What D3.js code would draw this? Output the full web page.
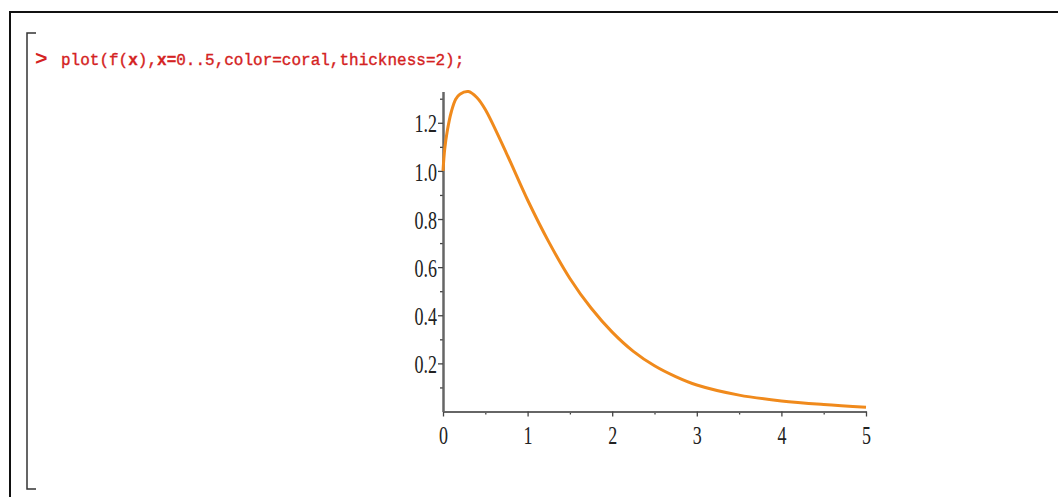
<!DOCTYPE html>
<html>
<head>
<meta charset="utf-8">
<script src="https://cdn.jsdelivr.net/npm/d3@7"></script>
<style>
  html, body { margin: 0; padding: 0; background: #fff; }
  svg { display: block; }
</style>
</head>
<body>
<svg id="chart" width="1058" height="497"></svg>
<script>
// values
var xValues = [0, 0.02, 0.05, 0.1, 0.15, 0.2, 0.3, 0.4, 0.5, 0.75, 1, 1.25, 1.5, 1.75, 2, 2.25, 2.5, 2.75, 3, 3.5, 4, 4.5, 5];
var yValues = [1.0, 1.09, 1.165, 1.248, 1.298, 1.319, 1.33, 1.305, 1.255, 1.073, 0.879, 0.705, 0.553, 0.43, 0.33, 0.25, 0.19, 0.145, 0.11, 0.068, 0.044, 0.029, 0.018];

var xMajorTicks = [0, 1, 2, 3, 4, 5];
var xMinorTicks = [0.5, 1.5, 2.5, 3.5, 4.5];
var yMajorTicks = [0.2, 0.4, 0.6, 0.8, 1.0, 1.2];
var yMinorTicks = [0.1, 0.3, 0.5, 0.7, 0.9, 1.1, 1.3];

var commandParts = [
  ['plot(f(', false],
  ['x', true],
  ('),'),
  ['x=', true],
  ['0..5,color=coral,thickness=2);', false]
];

var svg = d3.select('#chart');

// worksheet frame
svg.append('path')
  .attr('d', 'M10,1100 L10,12 L1100,12')
  .attr('fill', 'none')
  .attr('stroke', '#111')
  .attr('stroke-width', 2);

// execution group bracket
svg.append('path')
  .attr('d', 'M36,33 L27,33 L27,489 L36,489')
  .attr('fill', 'none')
  .attr('stroke', '#333')
  .attr('stroke-width', 1.5);

// prompt + input line
svg.append('text')
  .attr('x', 35)
  .attr('y', 65)
  .attr('fill', '#d42222')
  .style('font-family', '"Liberation Mono", monospace')
  .style('font-size', '21px')
  .style('font-weight', 'bold')
  .text('>');

var cmd = svg.append('text')
  .attr('x', 61)
  .attr('y', 65)
  .attr('fill', '#d42222')
  .attr('stroke', '#d42222')
  .attr('stroke-width', 0.35)
  .style('font-family', '"Liberation Mono", monospace')
  .style('font-size', '16px');

commandParts.forEach(function(p) {
  var txt = typeof p === 'string' ? p : p[0];
  var bold = typeof p === 'string' ? false : p[1];
  cmd.append('tspan').style('font-weight', bold ? 'bold' : 'normal').text(txt);
});

// plot area
var xScale = d3.scaleLinear().domain([0, 5]).range([443, 866]);
var yScale = d3.scaleLinear().domain([0, 1.33]).range([411.5, 91.5]);

var xMinorAxis = d3.axisBottom(xScale).tickValues(xMinorTicks).tickSize(3).tickSizeOuter(0).tickFormat('');
var yMinorAxis = d3.axisLeft(yScale).tickValues(yMinorTicks).tickSize(3).tickSizeOuter(0).tickFormat('');
var xAxis = d3.axisBottom(xScale).tickValues(xMajorTicks).tickSize(5).tickSizeOuter(0).tickFormat(d3.format('d'));
var yAxis = d3.axisLeft(yScale).tickValues(yMajorTicks).tickSize(5).tickSizeOuter(0).tickFormat(d3.format('.1f'));

function styleAxis(g) {
  g.select('.domain').attr('stroke', '#666').attr('stroke-width', 2);
  g.selectAll('.tick line').attr('stroke', '#444').attr('stroke-width', 1.3);
  g.selectAll('.tick text')
    .attr('fill', '#222')
    .style('font-family', '"Liberation Serif", "Times New Roman", serif')
    .style('font-size', '18px');
}

svg.append('g').attr('transform', 'translate(0,' + yScale(0) + ')').call(xMinorAxis).call(styleAxis);
svg.append('g').attr('transform', 'translate(' + xScale(0) + ',0)').call(yMinorAxis).call(styleAxis);

// labels are tall and narrow in the original, so stretch them vertically
var gx = svg.append('g').attr('transform', 'translate(0,' + yScale(0) + ')').call(xAxis).call(styleAxis);
gx.selectAll('.tick text')
  .attr('y', 22.9)
  .attr('dy', 0)
  .attr('transform', 'scale(1,1.4)');

var gy = svg.append('g').attr('transform', 'translate(' + xScale(0) + ',0)').call(yAxis).call(styleAxis);
gy.selectAll('.tick text')
  .attr('x', -6)
  .attr('y', 6.5)
  .attr('dy', 0)
  .attr('transform', 'scale(1,1.4)');

// curve
var points = xValues.map(function(x, i) { return [x, yValues[i]]; });
var line = d3.line()
  .x(function(d) { return xScale(d[0]); })
  .y(function(d) { return yScale(d[1]); })
  .curve(d3.curveCatmullRom.alpha(0.5));

svg.append('path')
  .datum(points)
  .attr('d', line)
  .attr('fill', 'none')
  .attr('stroke', '#f08a1c')
  .attr('stroke-width', 3)
  .attr('stroke-linejoin', 'round');
</script>
</body>
</html>
